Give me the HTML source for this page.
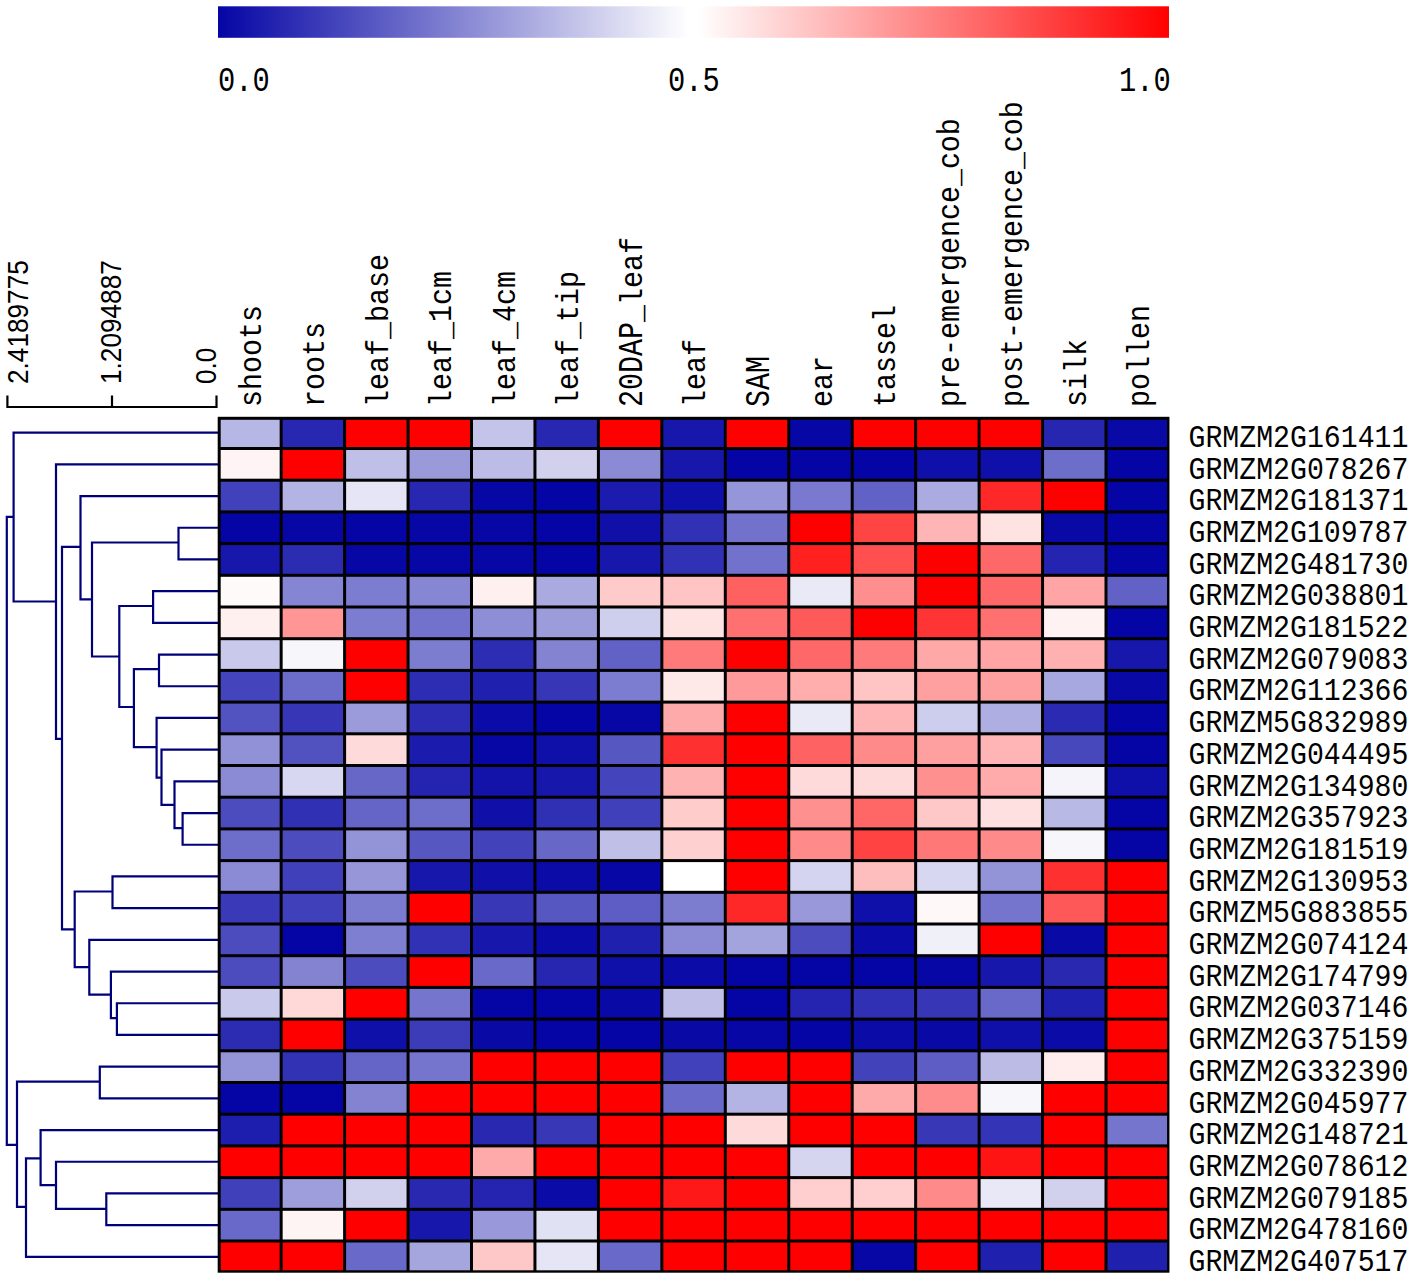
<!DOCTYPE html><html><head><meta charset="utf-8"><style>html,body{margin:0;padding:0;background:#fff;}svg{display:block}.m{font-family:"Liberation Mono",monospace;}.s{font-family:"Liberation Sans",sans-serif;}</style></head><body>
<svg width="1417" height="1280" viewBox="0 0 1417 1280">
<defs><linearGradient id="cb" x1="0" x2="1" y1="0" y2="0"><stop offset="0" stop-color="#0505a5"/><stop offset="0.495" stop-color="#ffffff"/><stop offset="0.505" stop-color="#ffffff"/><stop offset="1" stop-color="#ff0000"/></linearGradient></defs>
<rect x="218" y="6.3" width="951" height="31.5" fill="url(#cb)"/>
<text class="m" font-size="28.75" transform="translate(218,90.5) scale(1,1.22)">0.0</text>
<text class="m" font-size="28.75" transform="translate(668,90.5) scale(1,1.22)">0.5</text>
<text class="m" font-size="28.75" transform="translate(1119,90.5) scale(1,1.22)">1.0</text>
<text class="m" font-size="28.33" transform="translate(260.92,407) rotate(-90) scale(1,1.08)">shoots</text>
<text class="m" font-size="28.33" transform="translate(324.38,407) rotate(-90) scale(1,1.08)">roots</text>
<text class="m" font-size="28.33" transform="translate(387.82,407) rotate(-90) scale(1,1.08)">leaf_base</text>
<text class="m" font-size="28.33" transform="translate(451.27,407) rotate(-90) scale(1,1.08)">leaf_</text>
<text class="m" font-size="28.33" transform="translate(451.27,322.01) rotate(-90) scale(1,1.18)">1</text>
<text class="m" font-size="28.33" transform="translate(451.27,305.01) rotate(-90) scale(1,1.08)">cm</text>
<text class="m" font-size="28.33" transform="translate(514.73,407) rotate(-90) scale(1,1.08)">leaf_</text>
<text class="m" font-size="28.33" transform="translate(514.73,322.01) rotate(-90) scale(1,1.18)">4</text>
<text class="m" font-size="28.33" transform="translate(514.73,305.01) rotate(-90) scale(1,1.08)">cm</text>
<text class="m" font-size="28.33" transform="translate(578.17,407) rotate(-90) scale(1,1.08)">leaf_tip</text>
<text class="m" font-size="28.33" transform="translate(641.62,407) rotate(-90) scale(1,1.27)">20DAP</text>
<text class="m" font-size="28.33" transform="translate(641.62,322.01) rotate(-90) scale(1,1.08)">_leaf</text>
<text class="m" font-size="28.33" transform="translate(705.08,407) rotate(-90) scale(1,1.08)">leaf</text>
<text class="m" font-size="28.33" transform="translate(768.53,407) rotate(-90) scale(1,1.27)">SAM</text>
<text class="m" font-size="28.33" transform="translate(831.97,407) rotate(-90) scale(1,1.08)">ear</text>
<text class="m" font-size="28.33" transform="translate(895.42,407) rotate(-90) scale(1,1.08)">tassel</text>
<text class="m" font-size="28.33" transform="translate(958.88,407) rotate(-90) scale(1,1.08)">pre-emergence_cob</text>
<text class="m" font-size="28.33" transform="translate(1022.33,407) rotate(-90) scale(1,1.08)">post-emergence_cob</text>
<text class="m" font-size="28.33" transform="translate(1085.78,407) rotate(-90) scale(1,1.08)">silk</text>
<text class="m" font-size="28.33" transform="translate(1149.23,407) rotate(-90) scale(1,1.08)">pollen</text>
<path d="M7.4 395.5V407H216.5V395.5M112 395.5V407" fill="none" stroke="#000" stroke-width="2.2"/>
<text class="s" font-size="26.2" transform="translate(28,384) rotate(-90) scale(1,1.1)">2.4189775</text>
<text class="s" font-size="26.2" transform="translate(121,384) rotate(-90) scale(1,1.1)">1.2094887</text>
<text class="s" font-size="26.2" transform="translate(216,384) rotate(-90) scale(1,1.1)">0.0</text>
<path d="M218 527.75H178.5V559.45H218M218 591.15H153.1V622.85H218M218 654.55H159V686.25H218M218 813.05H182.6V844.75H218M218 781.35H174.5V828.1H182.6M218 749.65H161.5V804.9H174.5M218 717.95H156.6V777.6H161.5M159 669.2H133.9V747.2H156.6M153.1 606H119.3V707H133.9M178.5 542.5H92V656.5H119.3M218 496.05H80.5V599.3H92M218 876.45H112.5V908.15H218M218 1003.25H116.9V1034.95H218M218 971.55H110.9V1018.2H116.9M218 939.85H89.3V994.6H110.9M112.5 891.5H74.7V967.2H89.3M80.5 546.8H62V929.3H74.7M218 464.35H56V738.8H62M218 432.65H13.6V601.5H56M218 1066.65H99.8V1098.35H218M218 1193.45H106.3V1225.15H218M218 1161.75H56V1208.8H106.3M218 1130.05H40.6V1185.2H56M40.6 1158.3H26V1256.85H218M99.8 1081.6H17V1206.9H26M13.6 516.8H6.8V1144.8H17" fill="none" stroke="#000078" stroke-width="2.2"/>
<rect x="217.7" y="416.8" width="951.75" height="855.9" fill="#000"/>
<rect x="220.7" y="419.8" width="58.95" height="27.2" fill="#b7b7e5"/>
<rect x="282.65" y="419.8" width="60.45" height="27.2" fill="#2727b1"/>
<rect x="346.1" y="419.8" width="60.45" height="27.2" fill="#FF0000"/>
<rect x="409.55" y="419.8" width="60.45" height="27.2" fill="#FF0000"/>
<rect x="473" y="419.8" width="60.45" height="27.2" fill="#c4c4ea"/>
<rect x="536.45" y="419.8" width="60.45" height="27.2" fill="#2727b1"/>
<rect x="599.9" y="419.8" width="60.45" height="27.2" fill="#FF0000"/>
<rect x="663.35" y="419.8" width="60.45" height="27.2" fill="#1717ac"/>
<rect x="726.8" y="419.8" width="60.45" height="27.2" fill="#FF0000"/>
<rect x="790.25" y="419.8" width="60.45" height="27.2" fill="#0707a6"/>
<rect x="853.7" y="419.8" width="60.45" height="27.2" fill="#FF0000"/>
<rect x="917.15" y="419.8" width="60.45" height="27.2" fill="#FF0000"/>
<rect x="980.6" y="419.8" width="60.45" height="27.2" fill="#FF0000"/>
<rect x="1044.05" y="419.8" width="60.45" height="27.2" fill="#2626b1"/>
<rect x="1107.5" y="419.8" width="59.55" height="27.2" fill="#0909a6"/>
<rect x="220.7" y="450" width="58.95" height="28.7" fill="#FFF4F4"/>
<rect x="282.65" y="450" width="60.45" height="28.7" fill="#FF0000"/>
<rect x="346.1" y="450" width="60.45" height="28.7" fill="#bfbfe8"/>
<rect x="409.55" y="450" width="60.45" height="28.7" fill="#9a9adb"/>
<rect x="473" y="450" width="60.45" height="28.7" fill="#bcbce7"/>
<rect x="536.45" y="450" width="60.45" height="28.7" fill="#d1d1ee"/>
<rect x="599.9" y="450" width="60.45" height="28.7" fill="#8a8ad5"/>
<rect x="663.35" y="450" width="60.45" height="28.7" fill="#1717ac"/>
<rect x="726.8" y="450" width="60.45" height="28.7" fill="#0505a5"/>
<rect x="790.25" y="450" width="60.45" height="28.7" fill="#0505a5"/>
<rect x="853.7" y="450" width="60.45" height="28.7" fill="#0505a5"/>
<rect x="917.15" y="450" width="60.45" height="28.7" fill="#0f0fa9"/>
<rect x="980.6" y="450" width="60.45" height="28.7" fill="#0f0fa9"/>
<rect x="1044.05" y="450" width="60.45" height="28.7" fill="#6d6dca"/>
<rect x="1107.5" y="450" width="59.55" height="28.7" fill="#0505a5"/>
<rect x="220.7" y="481.7" width="58.95" height="28.7" fill="#4141bb"/>
<rect x="282.65" y="481.7" width="60.45" height="28.7" fill="#b3b3e4"/>
<rect x="346.1" y="481.7" width="60.45" height="28.7" fill="#e5e5f6"/>
<rect x="409.55" y="481.7" width="60.45" height="28.7" fill="#2727b1"/>
<rect x="473" y="481.7" width="60.45" height="28.7" fill="#0707a6"/>
<rect x="536.45" y="481.7" width="60.45" height="28.7" fill="#0505a5"/>
<rect x="599.9" y="481.7" width="60.45" height="28.7" fill="#1b1bad"/>
<rect x="663.35" y="481.7" width="60.45" height="28.7" fill="#0f0fa9"/>
<rect x="726.8" y="481.7" width="60.45" height="28.7" fill="#9595d9"/>
<rect x="790.25" y="481.7" width="60.45" height="28.7" fill="#7979cf"/>
<rect x="853.7" y="481.7" width="60.45" height="28.7" fill="#6262c6"/>
<rect x="917.15" y="481.7" width="60.45" height="28.7" fill="#ababe1"/>
<rect x="980.6" y="481.7" width="60.45" height="28.7" fill="#FF2828"/>
<rect x="1044.05" y="481.7" width="60.45" height="28.7" fill="#FF0000"/>
<rect x="1107.5" y="481.7" width="59.55" height="28.7" fill="#0505a5"/>
<rect x="220.7" y="513.4" width="58.95" height="28.7" fill="#0505a5"/>
<rect x="282.65" y="513.4" width="60.45" height="28.7" fill="#0707a6"/>
<rect x="346.1" y="513.4" width="60.45" height="28.7" fill="#0505a5"/>
<rect x="409.55" y="513.4" width="60.45" height="28.7" fill="#0707a6"/>
<rect x="473" y="513.4" width="60.45" height="28.7" fill="#0707a6"/>
<rect x="536.45" y="513.4" width="60.45" height="28.7" fill="#0505a5"/>
<rect x="599.9" y="513.4" width="60.45" height="28.7" fill="#1010a9"/>
<rect x="663.35" y="513.4" width="60.45" height="28.7" fill="#3131b5"/>
<rect x="726.8" y="513.4" width="60.45" height="28.7" fill="#7272cc"/>
<rect x="790.25" y="513.4" width="60.45" height="28.7" fill="#FF0000"/>
<rect x="853.7" y="513.4" width="60.45" height="28.7" fill="#FF4444"/>
<rect x="917.15" y="513.4" width="60.45" height="28.7" fill="#FFB5B5"/>
<rect x="980.6" y="513.4" width="60.45" height="28.7" fill="#FFE2E2"/>
<rect x="1044.05" y="513.4" width="60.45" height="28.7" fill="#0909a6"/>
<rect x="1107.5" y="513.4" width="59.55" height="28.7" fill="#0505a5"/>
<rect x="220.7" y="545.1" width="58.95" height="28.7" fill="#1717ac"/>
<rect x="282.65" y="545.1" width="60.45" height="28.7" fill="#2c2cb3"/>
<rect x="346.1" y="545.1" width="60.45" height="28.7" fill="#0707a6"/>
<rect x="409.55" y="545.1" width="60.45" height="28.7" fill="#0707a6"/>
<rect x="473" y="545.1" width="60.45" height="28.7" fill="#0707a6"/>
<rect x="536.45" y="545.1" width="60.45" height="28.7" fill="#0505a5"/>
<rect x="599.9" y="545.1" width="60.45" height="28.7" fill="#1717ac"/>
<rect x="663.35" y="545.1" width="60.45" height="28.7" fill="#3131b5"/>
<rect x="726.8" y="545.1" width="60.45" height="28.7" fill="#7272cc"/>
<rect x="790.25" y="545.1" width="60.45" height="28.7" fill="#FF2020"/>
<rect x="853.7" y="545.1" width="60.45" height="28.7" fill="#FF4F4F"/>
<rect x="917.15" y="545.1" width="60.45" height="28.7" fill="#FF0000"/>
<rect x="980.6" y="545.1" width="60.45" height="28.7" fill="#FF6868"/>
<rect x="1044.05" y="545.1" width="60.45" height="28.7" fill="#2424b0"/>
<rect x="1107.5" y="545.1" width="59.55" height="28.7" fill="#0505a5"/>
<rect x="220.7" y="576.8" width="58.95" height="28.7" fill="#FFFAFA"/>
<rect x="282.65" y="576.8" width="60.45" height="28.7" fill="#8585d3"/>
<rect x="346.1" y="576.8" width="60.45" height="28.7" fill="#7c7cd0"/>
<rect x="409.55" y="576.8" width="60.45" height="28.7" fill="#8686d3"/>
<rect x="473" y="576.8" width="60.45" height="28.7" fill="#FFF0F0"/>
<rect x="536.45" y="576.8" width="60.45" height="28.7" fill="#aaaae1"/>
<rect x="599.9" y="576.8" width="60.45" height="28.7" fill="#FFCACA"/>
<rect x="663.35" y="576.8" width="60.45" height="28.7" fill="#FFC5C5"/>
<rect x="726.8" y="576.8" width="60.45" height="28.7" fill="#FF6060"/>
<rect x="790.25" y="576.8" width="60.45" height="28.7" fill="#eaeaf7"/>
<rect x="853.7" y="576.8" width="60.45" height="28.7" fill="#FF8E8E"/>
<rect x="917.15" y="576.8" width="60.45" height="28.7" fill="#FF0000"/>
<rect x="980.6" y="576.8" width="60.45" height="28.7" fill="#FF6868"/>
<rect x="1044.05" y="576.8" width="60.45" height="28.7" fill="#FFA5A5"/>
<rect x="1107.5" y="576.8" width="59.55" height="28.7" fill="#6262c6"/>
<rect x="220.7" y="608.5" width="58.95" height="28.7" fill="#FFF0F0"/>
<rect x="282.65" y="608.5" width="60.45" height="28.7" fill="#FF9595"/>
<rect x="346.1" y="608.5" width="60.45" height="28.7" fill="#7c7cd0"/>
<rect x="409.55" y="608.5" width="60.45" height="28.7" fill="#7272cc"/>
<rect x="473" y="608.5" width="60.45" height="28.7" fill="#8e8ed6"/>
<rect x="536.45" y="608.5" width="60.45" height="28.7" fill="#9c9cdb"/>
<rect x="599.9" y="608.5" width="60.45" height="28.7" fill="#ceceed"/>
<rect x="663.35" y="608.5" width="60.45" height="28.7" fill="#FFE2E2"/>
<rect x="726.8" y="608.5" width="60.45" height="28.7" fill="#FF7070"/>
<rect x="790.25" y="608.5" width="60.45" height="28.7" fill="#FF5A5A"/>
<rect x="853.7" y="608.5" width="60.45" height="28.7" fill="#FF0000"/>
<rect x="917.15" y="608.5" width="60.45" height="28.7" fill="#FF3434"/>
<rect x="980.6" y="608.5" width="60.45" height="28.7" fill="#FF7070"/>
<rect x="1044.05" y="608.5" width="60.45" height="28.7" fill="#FFF2F2"/>
<rect x="1107.5" y="608.5" width="59.55" height="28.7" fill="#0505a5"/>
<rect x="220.7" y="640.2" width="58.95" height="28.7" fill="#c9c9ec"/>
<rect x="282.65" y="640.2" width="60.45" height="28.7" fill="#F6F6FB"/>
<rect x="346.1" y="640.2" width="60.45" height="28.7" fill="#FF0000"/>
<rect x="409.55" y="640.2" width="60.45" height="28.7" fill="#7d7dd0"/>
<rect x="473" y="640.2" width="60.45" height="28.7" fill="#2d2db3"/>
<rect x="536.45" y="640.2" width="60.45" height="28.7" fill="#8383d2"/>
<rect x="599.9" y="640.2" width="60.45" height="28.7" fill="#6161c6"/>
<rect x="663.35" y="640.2" width="60.45" height="28.7" fill="#FF7A7A"/>
<rect x="726.8" y="640.2" width="60.45" height="28.7" fill="#FF0000"/>
<rect x="790.25" y="640.2" width="60.45" height="28.7" fill="#FF6868"/>
<rect x="853.7" y="640.2" width="60.45" height="28.7" fill="#FF7A7A"/>
<rect x="917.15" y="640.2" width="60.45" height="28.7" fill="#FFA8A8"/>
<rect x="980.6" y="640.2" width="60.45" height="28.7" fill="#FFA5A5"/>
<rect x="1044.05" y="640.2" width="60.45" height="28.7" fill="#FFB0B0"/>
<rect x="1107.5" y="640.2" width="59.55" height="28.7" fill="#1717ac"/>
<rect x="220.7" y="671.9" width="58.95" height="28.7" fill="#4444bc"/>
<rect x="282.65" y="671.9" width="60.45" height="28.7" fill="#6c6cca"/>
<rect x="346.1" y="671.9" width="60.45" height="28.7" fill="#FF0000"/>
<rect x="409.55" y="671.9" width="60.45" height="28.7" fill="#2d2db3"/>
<rect x="473" y="671.9" width="60.45" height="28.7" fill="#2020af"/>
<rect x="536.45" y="671.9" width="60.45" height="28.7" fill="#3636b7"/>
<rect x="599.9" y="671.9" width="60.45" height="28.7" fill="#7c7cd0"/>
<rect x="663.35" y="671.9" width="60.45" height="28.7" fill="#FFE8E8"/>
<rect x="726.8" y="671.9" width="60.45" height="28.7" fill="#FF9A9A"/>
<rect x="790.25" y="671.9" width="60.45" height="28.7" fill="#FFADAD"/>
<rect x="853.7" y="671.9" width="60.45" height="28.7" fill="#FFC4C4"/>
<rect x="917.15" y="671.9" width="60.45" height="28.7" fill="#FFA0A0"/>
<rect x="980.6" y="671.9" width="60.45" height="28.7" fill="#FFA0A0"/>
<rect x="1044.05" y="671.9" width="60.45" height="28.7" fill="#a8a8e0"/>
<rect x="1107.5" y="671.9" width="59.55" height="28.7" fill="#0909a6"/>
<rect x="220.7" y="703.6" width="58.95" height="28.7" fill="#5252c1"/>
<rect x="282.65" y="703.6" width="60.45" height="28.7" fill="#3636b7"/>
<rect x="346.1" y="703.6" width="60.45" height="28.7" fill="#9b9bdb"/>
<rect x="409.55" y="703.6" width="60.45" height="28.7" fill="#2c2cb3"/>
<rect x="473" y="703.6" width="60.45" height="28.7" fill="#0b0ba7"/>
<rect x="536.45" y="703.6" width="60.45" height="28.7" fill="#0505a5"/>
<rect x="599.9" y="703.6" width="60.45" height="28.7" fill="#0707a6"/>
<rect x="663.35" y="703.6" width="60.45" height="28.7" fill="#FFAAAA"/>
<rect x="726.8" y="703.6" width="60.45" height="28.7" fill="#FF0000"/>
<rect x="790.25" y="703.6" width="60.45" height="28.7" fill="#eaeaf7"/>
<rect x="853.7" y="703.6" width="60.45" height="28.7" fill="#FFB5B5"/>
<rect x="917.15" y="703.6" width="60.45" height="28.7" fill="#cdcded"/>
<rect x="980.6" y="703.6" width="60.45" height="28.7" fill="#aeaee2"/>
<rect x="1044.05" y="703.6" width="60.45" height="28.7" fill="#2a2ab2"/>
<rect x="1107.5" y="703.6" width="59.55" height="28.7" fill="#0505a5"/>
<rect x="220.7" y="735.3" width="58.95" height="28.7" fill="#9191d7"/>
<rect x="282.65" y="735.3" width="60.45" height="28.7" fill="#5151c0"/>
<rect x="346.1" y="735.3" width="60.45" height="28.7" fill="#FFDADA"/>
<rect x="409.55" y="735.3" width="60.45" height="28.7" fill="#1b1bad"/>
<rect x="473" y="735.3" width="60.45" height="28.7" fill="#0707a6"/>
<rect x="536.45" y="735.3" width="60.45" height="28.7" fill="#0f0fa9"/>
<rect x="599.9" y="735.3" width="60.45" height="28.7" fill="#5757c2"/>
<rect x="663.35" y="735.3" width="60.45" height="28.7" fill="#FF3030"/>
<rect x="726.8" y="735.3" width="60.45" height="28.7" fill="#FF0000"/>
<rect x="790.25" y="735.3" width="60.45" height="28.7" fill="#FF6262"/>
<rect x="853.7" y="735.3" width="60.45" height="28.7" fill="#FF8A8A"/>
<rect x="917.15" y="735.3" width="60.45" height="28.7" fill="#FFA0A0"/>
<rect x="980.6" y="735.3" width="60.45" height="28.7" fill="#FFB5B5"/>
<rect x="1044.05" y="735.3" width="60.45" height="28.7" fill="#4848bd"/>
<rect x="1107.5" y="735.3" width="59.55" height="28.7" fill="#0505a5"/>
<rect x="220.7" y="767" width="58.95" height="28.7" fill="#8a8ad5"/>
<rect x="282.65" y="767" width="60.45" height="28.7" fill="#d7d7f1"/>
<rect x="346.1" y="767" width="60.45" height="28.7" fill="#6767c8"/>
<rect x="409.55" y="767" width="60.45" height="28.7" fill="#2424b0"/>
<rect x="473" y="767" width="60.45" height="28.7" fill="#1313aa"/>
<rect x="536.45" y="767" width="60.45" height="28.7" fill="#1717ac"/>
<rect x="599.9" y="767" width="60.45" height="28.7" fill="#4444bc"/>
<rect x="663.35" y="767" width="60.45" height="28.7" fill="#FFB2B2"/>
<rect x="726.8" y="767" width="60.45" height="28.7" fill="#FF0000"/>
<rect x="790.25" y="767" width="60.45" height="28.7" fill="#FFDADA"/>
<rect x="853.7" y="767" width="60.45" height="28.7" fill="#FFDADA"/>
<rect x="917.15" y="767" width="60.45" height="28.7" fill="#FF9090"/>
<rect x="980.6" y="767" width="60.45" height="28.7" fill="#FFABAB"/>
<rect x="1044.05" y="767" width="60.45" height="28.7" fill="#F4F4FA"/>
<rect x="1107.5" y="767" width="59.55" height="28.7" fill="#0f0fa9"/>
<rect x="220.7" y="798.7" width="58.95" height="28.7" fill="#4c4cbf"/>
<rect x="282.65" y="798.7" width="60.45" height="28.7" fill="#3030b4"/>
<rect x="346.1" y="798.7" width="60.45" height="28.7" fill="#6565c8"/>
<rect x="409.55" y="798.7" width="60.45" height="28.7" fill="#6d6dca"/>
<rect x="473" y="798.7" width="60.45" height="28.7" fill="#1010a9"/>
<rect x="536.45" y="798.7" width="60.45" height="28.7" fill="#3030b4"/>
<rect x="599.9" y="798.7" width="60.45" height="28.7" fill="#4040ba"/>
<rect x="663.35" y="798.7" width="60.45" height="28.7" fill="#FFCCCC"/>
<rect x="726.8" y="798.7" width="60.45" height="28.7" fill="#FF0000"/>
<rect x="790.25" y="798.7" width="60.45" height="28.7" fill="#FF9090"/>
<rect x="853.7" y="798.7" width="60.45" height="28.7" fill="#FF6666"/>
<rect x="917.15" y="798.7" width="60.45" height="28.7" fill="#FFC8C8"/>
<rect x="980.6" y="798.7" width="60.45" height="28.7" fill="#FFE0E0"/>
<rect x="1044.05" y="798.7" width="60.45" height="28.7" fill="#b9b9e6"/>
<rect x="1107.5" y="798.7" width="59.55" height="28.7" fill="#0505a5"/>
<rect x="220.7" y="830.4" width="58.95" height="28.7" fill="#6d6dca"/>
<rect x="282.65" y="830.4" width="60.45" height="28.7" fill="#4c4cbf"/>
<rect x="346.1" y="830.4" width="60.45" height="28.7" fill="#9393d8"/>
<rect x="409.55" y="830.4" width="60.45" height="28.7" fill="#5757c2"/>
<rect x="473" y="830.4" width="60.45" height="28.7" fill="#4242bb"/>
<rect x="536.45" y="830.4" width="60.45" height="28.7" fill="#6767c8"/>
<rect x="599.9" y="830.4" width="60.45" height="28.7" fill="#bfbfe8"/>
<rect x="663.35" y="830.4" width="60.45" height="28.7" fill="#FFD0D0"/>
<rect x="726.8" y="830.4" width="60.45" height="28.7" fill="#FF0000"/>
<rect x="790.25" y="830.4" width="60.45" height="28.7" fill="#FF8A8A"/>
<rect x="853.7" y="830.4" width="60.45" height="28.7" fill="#FF4242"/>
<rect x="917.15" y="830.4" width="60.45" height="28.7" fill="#FF7878"/>
<rect x="980.6" y="830.4" width="60.45" height="28.7" fill="#FF8A8A"/>
<rect x="1044.05" y="830.4" width="60.45" height="28.7" fill="#F6F6FB"/>
<rect x="1107.5" y="830.4" width="59.55" height="28.7" fill="#0505a5"/>
<rect x="220.7" y="862.1" width="58.95" height="28.7" fill="#8a8ad5"/>
<rect x="282.65" y="862.1" width="60.45" height="28.7" fill="#4040ba"/>
<rect x="346.1" y="862.1" width="60.45" height="28.7" fill="#9696d9"/>
<rect x="409.55" y="862.1" width="60.45" height="28.7" fill="#1717ac"/>
<rect x="473" y="862.1" width="60.45" height="28.7" fill="#1010a9"/>
<rect x="536.45" y="862.1" width="60.45" height="28.7" fill="#0b0ba7"/>
<rect x="599.9" y="862.1" width="60.45" height="28.7" fill="#0707a6"/>
<rect x="663.35" y="862.1" width="60.45" height="28.7" fill="#FFFFFF"/>
<rect x="726.8" y="862.1" width="60.45" height="28.7" fill="#FF0000"/>
<rect x="790.25" y="862.1" width="60.45" height="28.7" fill="#d4d4f0"/>
<rect x="853.7" y="862.1" width="60.45" height="28.7" fill="#FFBEBE"/>
<rect x="917.15" y="862.1" width="60.45" height="28.7" fill="#d7d7f1"/>
<rect x="980.6" y="862.1" width="60.45" height="28.7" fill="#9393d8"/>
<rect x="1044.05" y="862.1" width="60.45" height="28.7" fill="#FF3030"/>
<rect x="1107.5" y="862.1" width="59.55" height="28.7" fill="#FF0000"/>
<rect x="220.7" y="893.8" width="58.95" height="28.7" fill="#3a3ab8"/>
<rect x="282.65" y="893.8" width="60.45" height="28.7" fill="#4040ba"/>
<rect x="346.1" y="893.8" width="60.45" height="28.7" fill="#7b7bd0"/>
<rect x="409.55" y="893.8" width="60.45" height="28.7" fill="#FF0000"/>
<rect x="473" y="893.8" width="60.45" height="28.7" fill="#3838b7"/>
<rect x="536.45" y="893.8" width="60.45" height="28.7" fill="#5757c2"/>
<rect x="599.9" y="893.8" width="60.45" height="28.7" fill="#5d5dc5"/>
<rect x="663.35" y="893.8" width="60.45" height="28.7" fill="#7d7dd0"/>
<rect x="726.8" y="893.8" width="60.45" height="28.7" fill="#FF2828"/>
<rect x="790.25" y="893.8" width="60.45" height="28.7" fill="#9898da"/>
<rect x="853.7" y="893.8" width="60.45" height="28.7" fill="#0f0fa9"/>
<rect x="917.15" y="893.8" width="60.45" height="28.7" fill="#FFF8F8"/>
<rect x="980.6" y="893.8" width="60.45" height="28.7" fill="#7575cd"/>
<rect x="1044.05" y="893.8" width="60.45" height="28.7" fill="#FF5858"/>
<rect x="1107.5" y="893.8" width="59.55" height="28.7" fill="#FF0000"/>
<rect x="220.7" y="925.5" width="58.95" height="28.7" fill="#4c4cbf"/>
<rect x="282.65" y="925.5" width="60.45" height="28.7" fill="#0505a5"/>
<rect x="346.1" y="925.5" width="60.45" height="28.7" fill="#7f7fd1"/>
<rect x="409.55" y="925.5" width="60.45" height="28.7" fill="#3131b5"/>
<rect x="473" y="925.5" width="60.45" height="28.7" fill="#1717ac"/>
<rect x="536.45" y="925.5" width="60.45" height="28.7" fill="#0b0ba7"/>
<rect x="599.9" y="925.5" width="60.45" height="28.7" fill="#2020af"/>
<rect x="663.35" y="925.5" width="60.45" height="28.7" fill="#8a8ad5"/>
<rect x="726.8" y="925.5" width="60.45" height="28.7" fill="#a3a3de"/>
<rect x="790.25" y="925.5" width="60.45" height="28.7" fill="#4c4cbf"/>
<rect x="853.7" y="925.5" width="60.45" height="28.7" fill="#0b0ba7"/>
<rect x="917.15" y="925.5" width="60.45" height="28.7" fill="#F0F0F8"/>
<rect x="980.6" y="925.5" width="60.45" height="28.7" fill="#FF0000"/>
<rect x="1044.05" y="925.5" width="60.45" height="28.7" fill="#0909a6"/>
<rect x="1107.5" y="925.5" width="59.55" height="28.7" fill="#FF0000"/>
<rect x="220.7" y="957.2" width="58.95" height="28.7" fill="#4c4cbf"/>
<rect x="282.65" y="957.2" width="60.45" height="28.7" fill="#8383d2"/>
<rect x="346.1" y="957.2" width="60.45" height="28.7" fill="#4c4cbf"/>
<rect x="409.55" y="957.2" width="60.45" height="28.7" fill="#FF0000"/>
<rect x="473" y="957.2" width="60.45" height="28.7" fill="#6969c9"/>
<rect x="536.45" y="957.2" width="60.45" height="28.7" fill="#2626b1"/>
<rect x="599.9" y="957.2" width="60.45" height="28.7" fill="#0f0fa9"/>
<rect x="663.35" y="957.2" width="60.45" height="28.7" fill="#0b0ba7"/>
<rect x="726.8" y="957.2" width="60.45" height="28.7" fill="#0505a5"/>
<rect x="790.25" y="957.2" width="60.45" height="28.7" fill="#0505a5"/>
<rect x="853.7" y="957.2" width="60.45" height="28.7" fill="#0505a5"/>
<rect x="917.15" y="957.2" width="60.45" height="28.7" fill="#0707a6"/>
<rect x="980.6" y="957.2" width="60.45" height="28.7" fill="#1717ac"/>
<rect x="1044.05" y="957.2" width="60.45" height="28.7" fill="#2828b1"/>
<rect x="1107.5" y="957.2" width="59.55" height="28.7" fill="#FF0000"/>
<rect x="220.7" y="988.9" width="58.95" height="28.7" fill="#c9c9ec"/>
<rect x="282.65" y="988.9" width="60.45" height="28.7" fill="#FFD8D8"/>
<rect x="346.1" y="988.9" width="60.45" height="28.7" fill="#FF0000"/>
<rect x="409.55" y="988.9" width="60.45" height="28.7" fill="#7575cd"/>
<rect x="473" y="988.9" width="60.45" height="28.7" fill="#0505a5"/>
<rect x="536.45" y="988.9" width="60.45" height="28.7" fill="#0505a5"/>
<rect x="599.9" y="988.9" width="60.45" height="28.7" fill="#0909a6"/>
<rect x="663.35" y="988.9" width="60.45" height="28.7" fill="#bfbfe8"/>
<rect x="726.8" y="988.9" width="60.45" height="28.7" fill="#0505a5"/>
<rect x="790.25" y="988.9" width="60.45" height="28.7" fill="#2424b0"/>
<rect x="853.7" y="988.9" width="60.45" height="28.7" fill="#3030b4"/>
<rect x="917.15" y="988.9" width="60.45" height="28.7" fill="#3636b7"/>
<rect x="980.6" y="988.9" width="60.45" height="28.7" fill="#6969c9"/>
<rect x="1044.05" y="988.9" width="60.45" height="28.7" fill="#2020af"/>
<rect x="1107.5" y="988.9" width="59.55" height="28.7" fill="#FF0000"/>
<rect x="220.7" y="1020.6" width="58.95" height="28.7" fill="#2c2cb3"/>
<rect x="282.65" y="1020.6" width="60.45" height="28.7" fill="#FF0000"/>
<rect x="346.1" y="1020.6" width="60.45" height="28.7" fill="#0f0fa9"/>
<rect x="409.55" y="1020.6" width="60.45" height="28.7" fill="#3c3cb9"/>
<rect x="473" y="1020.6" width="60.45" height="28.7" fill="#0909a6"/>
<rect x="536.45" y="1020.6" width="60.45" height="28.7" fill="#0505a5"/>
<rect x="599.9" y="1020.6" width="60.45" height="28.7" fill="#0505a5"/>
<rect x="663.35" y="1020.6" width="60.45" height="28.7" fill="#0909a6"/>
<rect x="726.8" y="1020.6" width="60.45" height="28.7" fill="#0707a6"/>
<rect x="790.25" y="1020.6" width="60.45" height="28.7" fill="#0505a5"/>
<rect x="853.7" y="1020.6" width="60.45" height="28.7" fill="#0b0ba7"/>
<rect x="917.15" y="1020.6" width="60.45" height="28.7" fill="#0909a6"/>
<rect x="980.6" y="1020.6" width="60.45" height="28.7" fill="#0f0fa9"/>
<rect x="1044.05" y="1020.6" width="60.45" height="28.7" fill="#0b0ba7"/>
<rect x="1107.5" y="1020.6" width="59.55" height="28.7" fill="#FF0000"/>
<rect x="220.7" y="1052.3" width="58.95" height="28.7" fill="#9494d8"/>
<rect x="282.65" y="1052.3" width="60.45" height="28.7" fill="#3232b5"/>
<rect x="346.1" y="1052.3" width="60.45" height="28.7" fill="#6565c8"/>
<rect x="409.55" y="1052.3" width="60.45" height="28.7" fill="#7575cd"/>
<rect x="473" y="1052.3" width="60.45" height="28.7" fill="#FF0000"/>
<rect x="536.45" y="1052.3" width="60.45" height="28.7" fill="#FF0000"/>
<rect x="599.9" y="1052.3" width="60.45" height="28.7" fill="#FF0000"/>
<rect x="663.35" y="1052.3" width="60.45" height="28.7" fill="#4141bb"/>
<rect x="726.8" y="1052.3" width="60.45" height="28.7" fill="#FF0000"/>
<rect x="790.25" y="1052.3" width="60.45" height="28.7" fill="#FF0000"/>
<rect x="853.7" y="1052.3" width="60.45" height="28.7" fill="#4242bb"/>
<rect x="917.15" y="1052.3" width="60.45" height="28.7" fill="#5d5dc5"/>
<rect x="980.6" y="1052.3" width="60.45" height="28.7" fill="#bbbbe6"/>
<rect x="1044.05" y="1052.3" width="60.45" height="28.7" fill="#FFECEC"/>
<rect x="1107.5" y="1052.3" width="59.55" height="28.7" fill="#FF0000"/>
<rect x="220.7" y="1084" width="58.95" height="28.7" fill="#0505a5"/>
<rect x="282.65" y="1084" width="60.45" height="28.7" fill="#0505a5"/>
<rect x="346.1" y="1084" width="60.45" height="28.7" fill="#8383d2"/>
<rect x="409.55" y="1084" width="60.45" height="28.7" fill="#FF0000"/>
<rect x="473" y="1084" width="60.45" height="28.7" fill="#FF0000"/>
<rect x="536.45" y="1084" width="60.45" height="28.7" fill="#FF0000"/>
<rect x="599.9" y="1084" width="60.45" height="28.7" fill="#FF0000"/>
<rect x="663.35" y="1084" width="60.45" height="28.7" fill="#6969c9"/>
<rect x="726.8" y="1084" width="60.45" height="28.7" fill="#b3b3e4"/>
<rect x="790.25" y="1084" width="60.45" height="28.7" fill="#FF0000"/>
<rect x="853.7" y="1084" width="60.45" height="28.7" fill="#FFAAAA"/>
<rect x="917.15" y="1084" width="60.45" height="28.7" fill="#FF8C8C"/>
<rect x="980.6" y="1084" width="60.45" height="28.7" fill="#F6F6FB"/>
<rect x="1044.05" y="1084" width="60.45" height="28.7" fill="#FF0000"/>
<rect x="1107.5" y="1084" width="59.55" height="28.7" fill="#FF0000"/>
<rect x="220.7" y="1115.7" width="58.95" height="28.7" fill="#1d1dae"/>
<rect x="282.65" y="1115.7" width="60.45" height="28.7" fill="#FF0000"/>
<rect x="346.1" y="1115.7" width="60.45" height="28.7" fill="#FF0000"/>
<rect x="409.55" y="1115.7" width="60.45" height="28.7" fill="#FF0000"/>
<rect x="473" y="1115.7" width="60.45" height="28.7" fill="#2828b1"/>
<rect x="536.45" y="1115.7" width="60.45" height="28.7" fill="#3838b7"/>
<rect x="599.9" y="1115.7" width="60.45" height="28.7" fill="#FF0000"/>
<rect x="663.35" y="1115.7" width="60.45" height="28.7" fill="#FF0000"/>
<rect x="726.8" y="1115.7" width="60.45" height="28.7" fill="#FFDADA"/>
<rect x="790.25" y="1115.7" width="60.45" height="28.7" fill="#FF0000"/>
<rect x="853.7" y="1115.7" width="60.45" height="28.7" fill="#FF0000"/>
<rect x="917.15" y="1115.7" width="60.45" height="28.7" fill="#3838b7"/>
<rect x="980.6" y="1115.7" width="60.45" height="28.7" fill="#3434b6"/>
<rect x="1044.05" y="1115.7" width="60.45" height="28.7" fill="#FF0000"/>
<rect x="1107.5" y="1115.7" width="59.55" height="28.7" fill="#7575cd"/>
<rect x="220.7" y="1147.4" width="58.95" height="28.7" fill="#FF0000"/>
<rect x="282.65" y="1147.4" width="60.45" height="28.7" fill="#FF0000"/>
<rect x="346.1" y="1147.4" width="60.45" height="28.7" fill="#FF0000"/>
<rect x="409.55" y="1147.4" width="60.45" height="28.7" fill="#FF0000"/>
<rect x="473" y="1147.4" width="60.45" height="28.7" fill="#FFAAAA"/>
<rect x="536.45" y="1147.4" width="60.45" height="28.7" fill="#FF0000"/>
<rect x="599.9" y="1147.4" width="60.45" height="28.7" fill="#FF0000"/>
<rect x="663.35" y="1147.4" width="60.45" height="28.7" fill="#FF0000"/>
<rect x="726.8" y="1147.4" width="60.45" height="28.7" fill="#FF0000"/>
<rect x="790.25" y="1147.4" width="60.45" height="28.7" fill="#d5d5f0"/>
<rect x="853.7" y="1147.4" width="60.45" height="28.7" fill="#FF0000"/>
<rect x="917.15" y="1147.4" width="60.45" height="28.7" fill="#FF0000"/>
<rect x="980.6" y="1147.4" width="60.45" height="28.7" fill="#FF1414"/>
<rect x="1044.05" y="1147.4" width="60.45" height="28.7" fill="#FF0000"/>
<rect x="1107.5" y="1147.4" width="59.55" height="28.7" fill="#FF0000"/>
<rect x="220.7" y="1179.1" width="58.95" height="28.7" fill="#4040ba"/>
<rect x="282.65" y="1179.1" width="60.45" height="28.7" fill="#9e9edc"/>
<rect x="346.1" y="1179.1" width="60.45" height="28.7" fill="#d1d1ee"/>
<rect x="409.55" y="1179.1" width="60.45" height="28.7" fill="#2828b1"/>
<rect x="473" y="1179.1" width="60.45" height="28.7" fill="#2424b0"/>
<rect x="536.45" y="1179.1" width="60.45" height="28.7" fill="#0b0ba7"/>
<rect x="599.9" y="1179.1" width="60.45" height="28.7" fill="#FF0000"/>
<rect x="663.35" y="1179.1" width="60.45" height="28.7" fill="#FF1818"/>
<rect x="726.8" y="1179.1" width="60.45" height="28.7" fill="#FF0000"/>
<rect x="790.25" y="1179.1" width="60.45" height="28.7" fill="#FFCECE"/>
<rect x="853.7" y="1179.1" width="60.45" height="28.7" fill="#FFCECE"/>
<rect x="917.15" y="1179.1" width="60.45" height="28.7" fill="#FF8A8A"/>
<rect x="980.6" y="1179.1" width="60.45" height="28.7" fill="#e8e8f7"/>
<rect x="1044.05" y="1179.1" width="60.45" height="28.7" fill="#d1d1ee"/>
<rect x="1107.5" y="1179.1" width="59.55" height="28.7" fill="#FF0000"/>
<rect x="220.7" y="1210.8" width="58.95" height="28.7" fill="#6969c9"/>
<rect x="282.65" y="1210.8" width="60.45" height="28.7" fill="#FFF4F4"/>
<rect x="346.1" y="1210.8" width="60.45" height="28.7" fill="#FF0000"/>
<rect x="409.55" y="1210.8" width="60.45" height="28.7" fill="#1717ac"/>
<rect x="473" y="1210.8" width="60.45" height="28.7" fill="#9898da"/>
<rect x="536.45" y="1210.8" width="60.45" height="28.7" fill="#e1e1f4"/>
<rect x="599.9" y="1210.8" width="60.45" height="28.7" fill="#FF0000"/>
<rect x="663.35" y="1210.8" width="60.45" height="28.7" fill="#FF0000"/>
<rect x="726.8" y="1210.8" width="60.45" height="28.7" fill="#FF0000"/>
<rect x="790.25" y="1210.8" width="60.45" height="28.7" fill="#FF0000"/>
<rect x="853.7" y="1210.8" width="60.45" height="28.7" fill="#FF0000"/>
<rect x="917.15" y="1210.8" width="60.45" height="28.7" fill="#FF0000"/>
<rect x="980.6" y="1210.8" width="60.45" height="28.7" fill="#FF0000"/>
<rect x="1044.05" y="1210.8" width="60.45" height="28.7" fill="#FF0000"/>
<rect x="1107.5" y="1210.8" width="59.55" height="28.7" fill="#FF0000"/>
<rect x="220.7" y="1242.5" width="58.95" height="27.8" fill="#FF0000"/>
<rect x="282.65" y="1242.5" width="60.45" height="27.8" fill="#FF0000"/>
<rect x="346.1" y="1242.5" width="60.45" height="27.8" fill="#6969c9"/>
<rect x="409.55" y="1242.5" width="60.45" height="27.8" fill="#a6a6df"/>
<rect x="473" y="1242.5" width="60.45" height="27.8" fill="#FFC8C8"/>
<rect x="536.45" y="1242.5" width="60.45" height="27.8" fill="#e5e5f6"/>
<rect x="599.9" y="1242.5" width="60.45" height="27.8" fill="#6969c9"/>
<rect x="663.35" y="1242.5" width="60.45" height="27.8" fill="#FF0000"/>
<rect x="726.8" y="1242.5" width="60.45" height="27.8" fill="#FF0000"/>
<rect x="790.25" y="1242.5" width="60.45" height="27.8" fill="#FF0000"/>
<rect x="853.7" y="1242.5" width="60.45" height="27.8" fill="#0707a6"/>
<rect x="917.15" y="1242.5" width="60.45" height="27.8" fill="#FF0000"/>
<rect x="980.6" y="1242.5" width="60.45" height="27.8" fill="#2020af"/>
<rect x="1044.05" y="1242.5" width="60.45" height="27.8" fill="#FF0000"/>
<rect x="1107.5" y="1242.5" width="59.55" height="27.8" fill="#2020af"/>
<text class="m" font-size="28.2" transform="translate(1188.5,446.85) scale(1,1.13)">GRMZM2G161411</text>
<text class="m" font-size="28.2" transform="translate(1188.5,478.55) scale(1,1.13)">GRMZM2G078267</text>
<text class="m" font-size="28.2" transform="translate(1188.5,510.25) scale(1,1.13)">GRMZM2G181371</text>
<text class="m" font-size="28.2" transform="translate(1188.5,541.95) scale(1,1.13)">GRMZM2G109787</text>
<text class="m" font-size="28.2" transform="translate(1188.5,573.65) scale(1,1.13)">GRMZM2G481730</text>
<text class="m" font-size="28.2" transform="translate(1188.5,605.35) scale(1,1.13)">GRMZM2G038801</text>
<text class="m" font-size="28.2" transform="translate(1188.5,637.05) scale(1,1.13)">GRMZM2G181522</text>
<text class="m" font-size="28.2" transform="translate(1188.5,668.75) scale(1,1.13)">GRMZM2G079083</text>
<text class="m" font-size="28.2" transform="translate(1188.5,700.45) scale(1,1.13)">GRMZM2G112366</text>
<text class="m" font-size="28.2" transform="translate(1188.5,732.15) scale(1,1.13)">GRMZM5G832989</text>
<text class="m" font-size="28.2" transform="translate(1188.5,763.85) scale(1,1.13)">GRMZM2G044495</text>
<text class="m" font-size="28.2" transform="translate(1188.5,795.55) scale(1,1.13)">GRMZM2G134980</text>
<text class="m" font-size="28.2" transform="translate(1188.5,827.25) scale(1,1.13)">GRMZM2G357923</text>
<text class="m" font-size="28.2" transform="translate(1188.5,858.95) scale(1,1.13)">GRMZM2G181519</text>
<text class="m" font-size="28.2" transform="translate(1188.5,890.65) scale(1,1.13)">GRMZM2G130953</text>
<text class="m" font-size="28.2" transform="translate(1188.5,922.35) scale(1,1.13)">GRMZM5G883855</text>
<text class="m" font-size="28.2" transform="translate(1188.5,954.05) scale(1,1.13)">GRMZM2G074124</text>
<text class="m" font-size="28.2" transform="translate(1188.5,985.75) scale(1,1.13)">GRMZM2G174799</text>
<text class="m" font-size="28.2" transform="translate(1188.5,1017.45) scale(1,1.13)">GRMZM2G037146</text>
<text class="m" font-size="28.2" transform="translate(1188.5,1049.15) scale(1,1.13)">GRMZM2G375159</text>
<text class="m" font-size="28.2" transform="translate(1188.5,1080.85) scale(1,1.13)">GRMZM2G332390</text>
<text class="m" font-size="28.2" transform="translate(1188.5,1112.55) scale(1,1.13)">GRMZM2G045977</text>
<text class="m" font-size="28.2" transform="translate(1188.5,1144.25) scale(1,1.13)">GRMZM2G148721</text>
<text class="m" font-size="28.2" transform="translate(1188.5,1175.95) scale(1,1.13)">GRMZM2G078612</text>
<text class="m" font-size="28.2" transform="translate(1188.5,1207.65) scale(1,1.13)">GRMZM2G079185</text>
<text class="m" font-size="28.2" transform="translate(1188.5,1239.35) scale(1,1.13)">GRMZM2G478160</text>
<text class="m" font-size="28.2" transform="translate(1188.5,1271.05) scale(1,1.13)">GRMZM2G407517</text>
</svg></body></html>
